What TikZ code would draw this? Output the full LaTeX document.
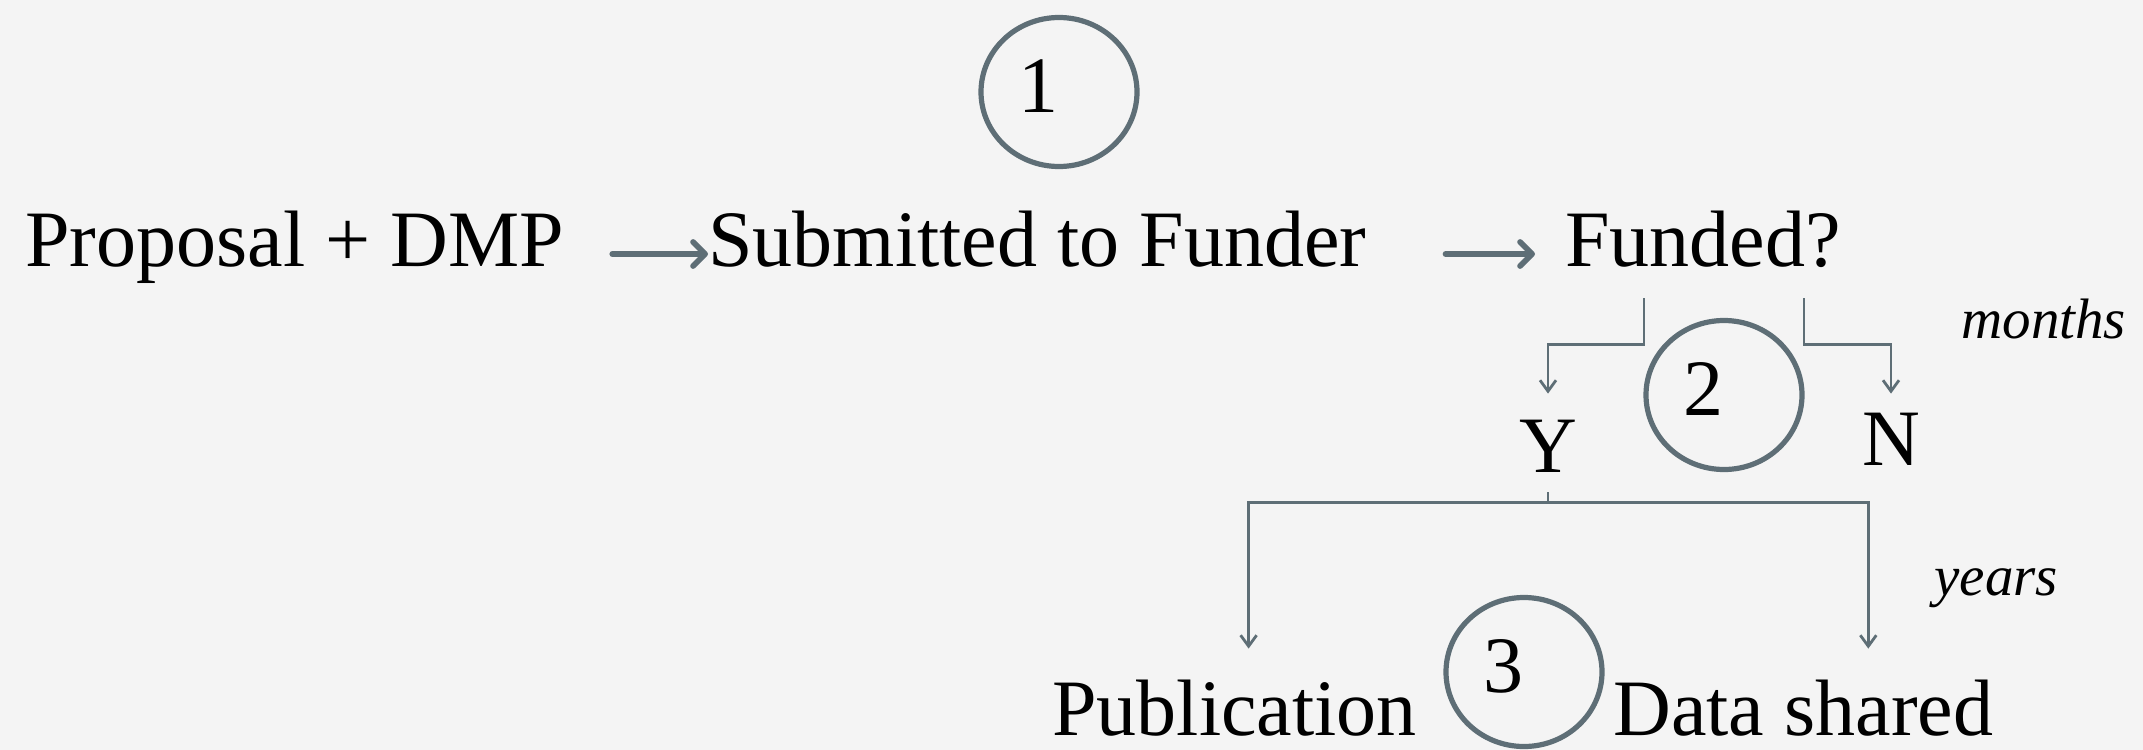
\documentclass[tikz,border=0pt]{standalone}
\usepackage{fontspec}
\setmainfont{Liberation Serif}
\usepackage{tikz}
\usetikzlibrary{arrows.meta,shapes.geometric,positioning}
\definecolor{slate}{RGB}{94,110,118}
\definecolor{paper}{RGB}{244,244,244}
\tikzstyle{lbl}=[inner sep=0,text height=22pt,text depth=10pt,font=\fontsize{40}{48}\selectfont]
\tikzstyle{note}=[inner sep=0,font=\fontsize{28.5}{34}\selectfont\itshape]
\tikzstyle{ring}=[ellipse,draw=slate,line width=2.6pt,minimum width=78pt,minimum height=74.5pt,inner sep=0]
\tikzstyle{digit}=[inner sep=0,xshift=-10.5pt,yshift=3pt,font=\fontsize{40}{48}\selectfont]
\tikzstyle{flow}=[draw=slate,line width=2.9pt,line cap=round,-{Straight Barb[length=6pt,width=12pt,round]}]
\tikzstyle{branch}=[draw=slate,line width=1.4pt]
\begin{document}
\begin{tikzpicture}[x=0.5pt,y=-0.5pt]
		\fill[paper] (0,0) rectangle (2143,750);
		\useasboundingbox (0,0) rectangle (2143,750);
		\begin{scope}[>={Straight Barb[length=5.5pt,width=8pt]}]
			\node[lbl,anchor=base west]	(prop)	at (25,266)	{Proposal + DMP};
			\node[lbl,anchor=base west]	(sub)	at (708,266)	{Submitted to Funder};
			\node[lbl,anchor=base west]	(fund)	at (1565,266)	{Funded?};
			\node[lbl,anchor=base]	(yes)	at (1548,472)	{Y};
			\node[lbl,anchor=base]	(no)	at (1891,465)	{N};
			\node[lbl,anchor=base west]	(pub)	at (1052,735)	{Publication};
			\node[lbl,anchor=base west]	(data)	at (1613,735)	{Data shared};
			\node[note,anchor=base west]	(months)	at (1961,338)	{months};
			\node[note,anchor=base west]	(years)	at (1934,595)	{years};
			\node[ring,label={[digit]center:1}]	(c1)	at (1059,92)	{};
			\node[ring,label={[digit]center:2}]	(c2)	at (1724,395)	{};
			\node[ring,label={[digit]center:3}]	(c3)	at (1524,672)	{};
			\coordinate	(fy)	at ([xshift=39.5pt,yshift=-6pt]fund.south west);
			\coordinate	(fn)	at ([xshift=119.5pt,yshift=-6pt]fund.south west);
			\coordinate	(split)	at ([yshift=-5pt]yes.south);
			\coordinate	(pubin)	at ([xshift=7pt,yshift=21pt]pub.north);
			\coordinate	(datain)	at ([xshift=32.5pt,yshift=21pt]data.north);
			\draw[flow]	([xshift=24pt]prop.east) -- (sub.west);
			\draw[flow]	([xshift=39.5pt]sub.east) -- ([xshift=-15pt]fund.west);
			\draw[branch,->,shorten >=17pt]	(fy) -- ++(0,46) -| (yes);
			\draw[branch,->,shorten >=13.5pt]	(fn) -- ++(0,46) -| (no);
			\draw[branch]	(yes.south) -- (split);
			\draw[branch,->]	(split) -| (pubin);
			\draw[branch,->]	(split) -| (datain);
		\end{scope}
	\end{tikzpicture}
\end{document}
